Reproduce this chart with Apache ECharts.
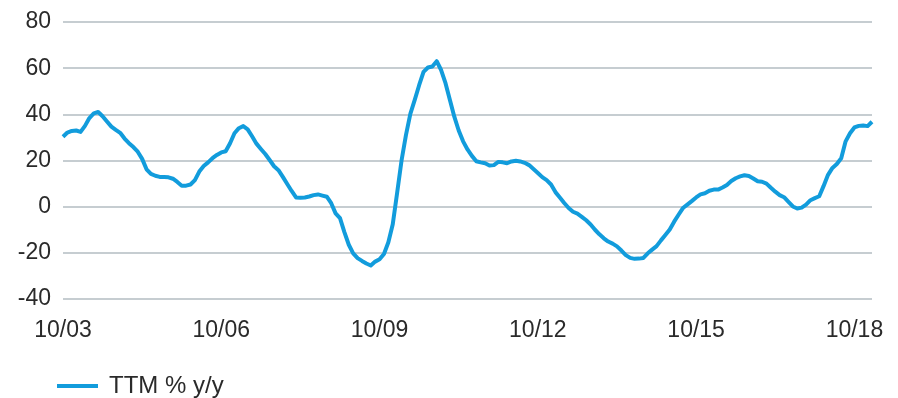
<!DOCTYPE html>
<html>
<head>
<meta charset="utf-8">
<script src="https://cdn.jsdelivr.net/npm/echarts@6/dist/echarts.min.js"></script>
<style>html,body{margin:0;padding:0;background:#fff;}#c{width:898px;height:398px;}</style>
</head>
<body>
<div id="c"></div>
<script>
// Monthly, Oct 2003 .. Feb 2019
var startYear = 2003, startMonth = 10, nPoints = 185;
var categories = [];
for (var k = 0; k < nPoints; k++) {
  var m = (startMonth - 1 + k) % 12 + 1;
  var y = startYear + Math.floor((startMonth - 1 + k) / 12);
  categories.push((m < 10 ? '0' + m : '' + m) + '/' + String(y % 100).padStart(2, '0'));
}
var seriesName = 'TTM % y/y';
var ttmValues = [
  30.3, 32.1, 32.8, 33.0, 32.4, 35.0, 38.4, 40.4, 41.0, 39.2,
  36.9, 34.7, 33.3, 32.0, 29.5, 27.5, 25.8, 23.8, 20.7, 16.2,
  14.2, 13.4, 12.9, 12.8, 12.7, 12.1, 10.7, 9.1, 9.1, 9.6,
  11.5, 15.2, 17.6, 19.2, 21.0, 22.4, 23.5, 24.0, 27.5, 31.8,
  34.0, 34.9, 33.5, 30.5, 27.3, 25.0, 22.8, 20.2, 17.5, 15.8,
  12.9, 9.8, 6.8, 4.0, 3.9, 4.0, 4.4, 5.0, 5.3, 4.8,
  4.3, 1.5, -2.9, -5.0, -11.0, -16.5, -20.2, -22.3, -23.5, -24.6,
  -25.5, -23.8, -22.8, -20.5, -15.4, -7.6, 6.0, 20.0, 31.0, 40.2,
  46.3, 52.6, 58.4, 60.3, 60.7, 63.0, 59.2, 53.5, 46.2, 39.0,
  33.0, 28.3, 24.8, 22.0, 19.7, 19.2, 18.8, 17.8, 18.0, 19.4,
  19.2, 18.8, 19.6, 19.9, 19.6, 19.0, 18.0, 16.3, 14.6, 12.8,
  11.5, 9.6, 6.3, 4.0, 1.6, -0.6, -2.2, -3.0, -4.4, -5.9,
  -7.7, -10.0, -12.0, -13.7, -15.1, -16.0, -17.2, -19.0, -21.0, -22.2,
  -22.6, -22.5, -22.2, -20.2, -18.6, -17.1, -14.6, -12.3, -9.9, -6.5,
  -3.5, -0.6, 0.9, 2.4, 4.0, 5.3, 5.8, 6.9, 7.4, 7.4,
  8.3, 9.4, 11.1, 12.3, 13.1, 13.6, 13.3, 12.2, 11.0, 10.8,
  10.0, 8.2, 6.5, 5.0, 4.1, 2.1, 0.1, -0.8, -0.4, 0.9,
  2.8, 3.7, 4.5, 9.0, 13.8, 16.8, 18.5, 21.0, 28.3, 31.8,
  34.3, 35.0, 35.2, 34.9, 36.8
];
var yMin = -40, yMax = 80, yStep = 20;

var fontFam = '"Liberation Sans", Arial, sans-serif';
var chart = echarts.init(document.getElementById('c'));
chart.setOption({
  animation: false,
  backgroundColor: '#ffffff',
  grid: { left: 63, right: 26, top: 22, bottom: 99, containLabel: false },
  legend: {
    data: [seriesName], left: 52, top: 369, itemWidth: 41, itemHeight: 4, itemGap: 10,
    icon: 'rect',
    textStyle: { fontFamily: fontFam, fontSize: 24, color: '#2a2a2a', padding: [0, 0, 0, 6] }
  },
  xAxis: {
    type: 'category', data: categories, boundaryGap: false,
    axisLine: { show: false }, axisTick: { show: false },
    axisLabel: { interval: 35, margin: 20, fontFamily: fontFam, fontSize: 23, color: '#2a2a2a' }
  },
  yAxis: {
    type: 'value', min: yMin, max: yMax, interval: yStep,
    axisLine: { show: false }, axisTick: { show: false },
    axisLabel: { margin: 12, fontFamily: fontFam, fontSize: 23, color: '#2a2a2a' },
    splitLine: { lineStyle: { color: '#b3bcc2', width: 1.5 } }
  },
  series: [{
    name: seriesName, type: 'line', data: ttmValues, showSymbol: false, symbol: 'none',
    lineStyle: { color: '#129cdc', width: 4, join: 'round' }, itemStyle: { color: '#129cdc' }
  }]
});
</script>
</body>
</html>
